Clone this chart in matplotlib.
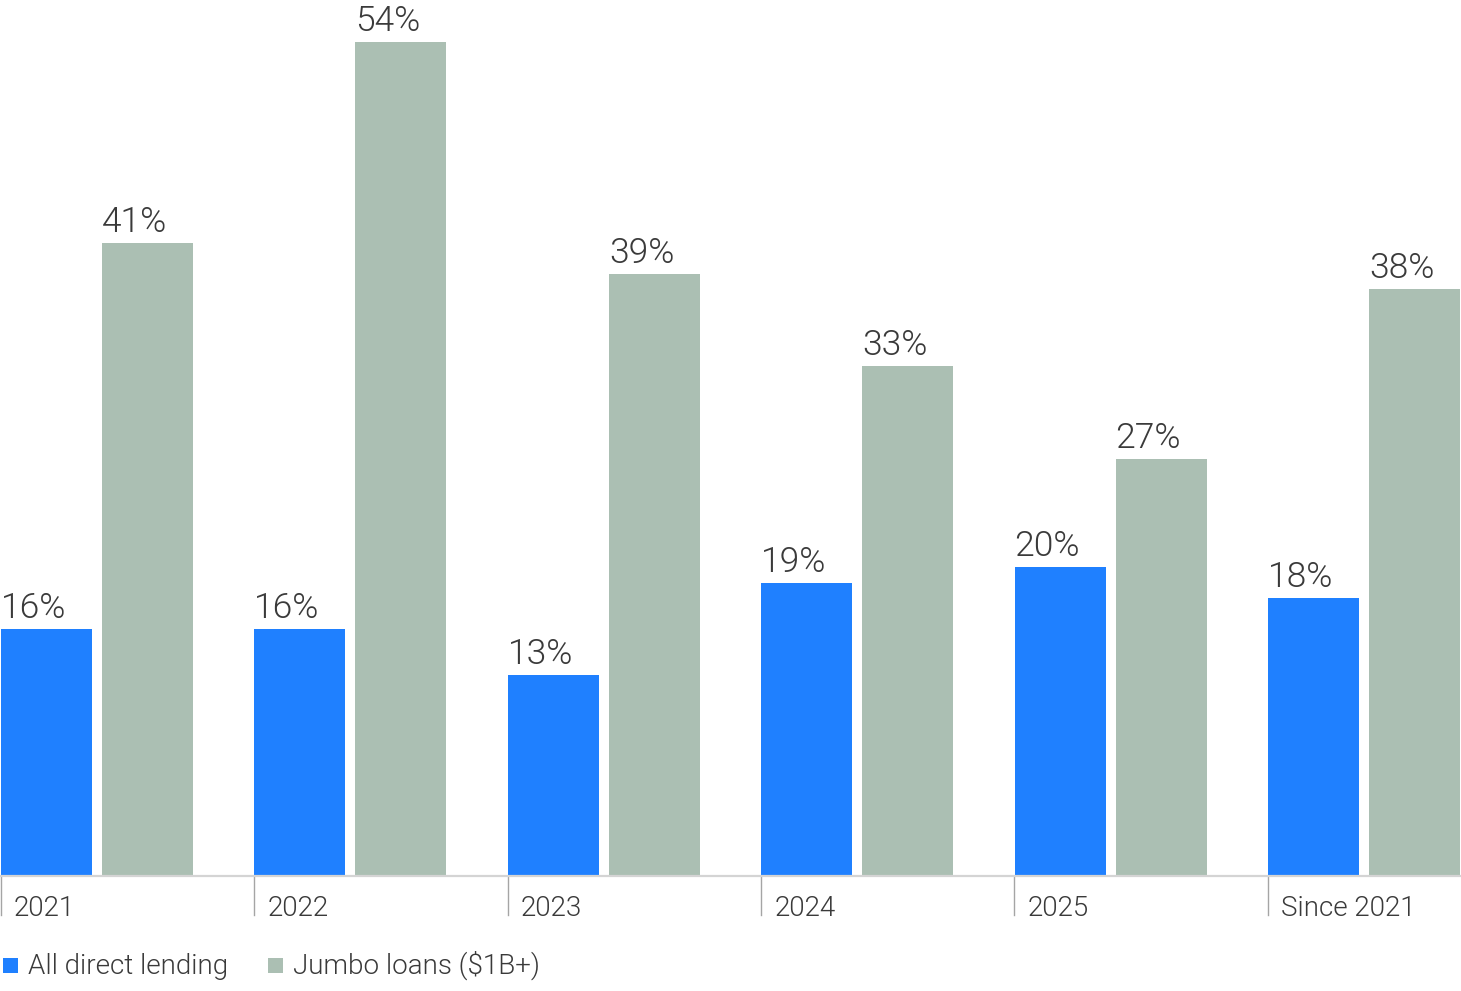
import matplotlib
matplotlib.use("Agg")
import matplotlib.pyplot as plt
from matplotlib import font_manager
from matplotlib.patches import Rectangle
import matplotlib.transforms as mtransforms

categories = ["2021", "2022", "2023", "2024", "2025", "Since 2021"]
all_direct = [16, 16, 13, 19, 20, 18]
jumbo = [41, 54, 39, 33, 27, 38]
series_names = ["All direct lending", "Jumbo loans ($1B+)"]

BLUE = "#1F80FF"
GRAY = "#ABBFB3"
TEXT = "#3A3A3A"

# pick a light-weight sans if one is installed
fam, wt = "Liberation Sans", "normal"
for cand in ["Roboto", "Inter", "Lato", "Open Sans", "Noto Sans"]:
    ws = [f.weight for f in font_manager.fontManager.ttflist if f.name == cand]
    ws = [w if isinstance(w, int) else font_manager.weight_dict.get(w, 400) for w in ws]
    if 300 in ws:
        fam, wt = cand, 300
        break

W, H = 1461, 991
DPI = 100
fig = plt.figure(figsize=(W / DPI, H / DPI), dpi=DPI)
base_px = 876  # from top
ax = fig.add_axes([0, (H - base_px) / H, 1, base_px / H])
group_px = 253.4
ax.set_xlim(0, W / group_px)
ax.set_ylim(0, base_px / 15.44)
ax.axis("off")

off = 1 / group_px
bw1 = 91 / group_px
bw2 = 91 / group_px
g2 = 101 / group_px
tr = mtransforms.blended_transform_factory(ax.transData, fig.transFigure)
for i, (a, j) in enumerate(zip(all_direct, jumbo)):
    x0 = i + off
    ax.bar(x0, a, width=bw1, align="edge", color=BLUE, linewidth=0)
    ax.bar(x0 + g2, j, width=bw2, align="edge", color=GRAY, linewidth=0)
    for xx, v in ((x0, a), (x0 + g2, j)):
        ax.annotate(f"{v}%", (xx, v), xytext=(0, 11), textcoords="offset pixels",
                    ha="left", va="baseline", fontsize=25.5, color=TEXT,
                    family=fam, fontweight=wt)
    # tick line
    ax.plot([i + off * 0.7, i + off * 0.7], [(H - 876) / H, (H - 915) / H], transform=tr,
            color="#A5A5A5", lw=1.0, clip_on=False)
    ax.text(i + off + 13 / group_px, (H - 916) / H, categories[i], transform=tr,
            ha="left", va="baseline", fontsize=20, color=TEXT, family=fam, fontweight=wt)

# baseline
ax.plot([0, 1], [0, 0], transform=ax.transAxes, color="#D4D4D4", lw=1.6, clip_on=False)

# legend
for k, (name, col, xs) in enumerate(zip(series_names, [BLUE, GRAY], [3, 268])):
    fig.patches.append(Rectangle((xs / W, (H - 973) / H), 15 / W, 15 / H,
                                 transform=fig.transFigure, color=col, lw=0))
    fig.text((xs + 25) / W, (H - 974) / H, name, ha="left", va="baseline",
             fontsize=20, color=TEXT, family=fam, fontweight=wt)

fig.savefig("out.png", dpi=DPI)
